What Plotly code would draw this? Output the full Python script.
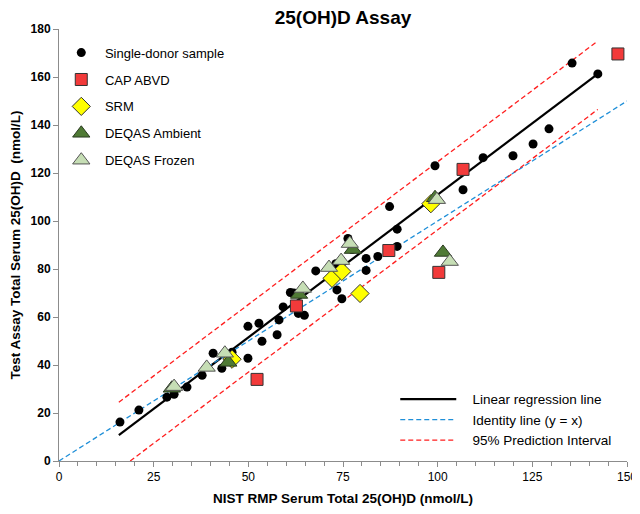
import plotly.graph_objects as go

FONT = "Arial, Liberation Sans, sans-serif"
AXIS = "#8C8C8C"
NB = "\u00a0"

# single-donor samples
donor_x = [16.1, 21.1, 28.5, 30.4, 33.8, 37.8, 40.7, 43.0, 45.7, 49.9, 49.9, 52.8, 53.6,
           57.6, 58.1, 59.2, 61.1, 62.0, 63.2, 64.8, 67.8, 73.1, 73.4, 74.7, 76.3, 77.4,
           81.1, 81.1, 84.2, 87.3, 89.3, 89.3, 99.3, 106.7, 112.0, 119.9, 125.2, 129.4,
           135.5, 142.3]
donor_y = [16.2, 21.2, 26.6, 27.8, 30.8, 35.7, 44.9, 38.6, 45.3, 42.8, 56.1, 57.4, 49.9,
           52.6, 58.8, 64.2, 70.2, 70.0, 61.5, 60.7, 79.2, 82.2, 71.3, 67.6, 92.7, 88.1,
           84.4, 79.4, 85.2, 106.0, 96.6, 89.4, 123.0, 113.0, 126.4, 127.2, 132.1, 138.4,
           165.8, 161.3]

cap_x = [52.3, 62.7, 87.1, 100.3, 106.7, 147.6]
cap_y = [34.0, 64.6, 87.7, 78.6, 121.5, 169.6]

srm_x = [45.7, 72.1, 74.7, 79.5, 98.2]
srm_y = [42.4, 76.1, 79.0, 69.8, 107.2]

amb_x = [29.8, 44.7, 63.4, 77.6, 99.3, 101.4]
amb_y = [30.3, 41.1, 69.4, 88.1, 109.7, 86.9]

frz_x = [30.4, 39.0, 43.8, 64.4, 71.3, 74.5, 76.8, 99.8, 103.2]
frz_y = [31.0, 39.0, 44.9, 71.9, 80.6, 83.5, 90.6, 108.9, 83.1]

# lines (end points)
reg_x, reg_y = [15.8, 142.3], [10.8, 161.3]
ident_x, ident_y = [0, 150], [0, 150]
pi_up_x, pi_up_y = [15.8, 142.3], [24.5, 175.0]
pi_lo_x, pi_lo_y = [18.8, 142.3], [0.0, 146.5]

DASH = "5px,3px"

fig = go.Figure()

# line traces first so markers sit on top
fig.add_trace(go.Scatter(x=reg_x, y=reg_y, mode="lines", name=NB * 3 + "Linear regression line",
                         line=dict(color="black", width=2.2), legend="legend2"))
fig.add_trace(go.Scatter(x=ident_x, y=ident_y, mode="lines", name=NB * 3 + "Identity line (y = x)",
                         line=dict(color="#1F8FD8", width=1.3, dash=DASH), legend="legend2"))
fig.add_trace(go.Scatter(x=pi_up_x, y=pi_up_y, mode="lines", name=NB * 3 + "95% Prediction Interval",
                         line=dict(color="#FF1E1E", width=1.3, dash=DASH), legend="legend2",
                         legendgroup="pi"))
fig.add_trace(go.Scatter(x=pi_lo_x, y=pi_lo_y, mode="lines", showlegend=False,
                         line=dict(color="#FF1E1E", width=1.3, dash=DASH), legendgroup="pi"))

fig.add_trace(go.Scatter(x=donor_x, y=donor_y, mode="markers", name=NB + "Single-donor sample",
                         legendgroup="a",
                         marker=dict(color="black", size=9, line=dict(width=0))))
fig.add_trace(go.Scatter(x=cap_x, y=cap_y, mode="markers", name=NB + "CAP ABVD", legendgroup="b",
                         marker=dict(symbol="square", color="#F23A3A", size=12,
                                     line=dict(color="#333333", width=1))))
fig.add_trace(go.Scatter(x=srm_x, y=srm_y, mode="markers", name=NB + "SRM", legendgroup="c",
                         marker=dict(symbol="diamond", color="#FFFF00", size=14,
                                     line=dict(color="#333333", width=1))))
fig.add_trace(go.Scatter(x=amb_x, y=amb_y, mode="markers", name=NB + "DEQAS Ambient", legendgroup="d",
                         marker=dict(symbol="triangle-up", color="#4F7A35", size=15,
                                     line=dict(color="#2A3A20", width=1))))
fig.add_trace(go.Scatter(x=frz_x, y=frz_y, mode="markers", name=NB + "DEQAS Frozen", legendgroup="e",
                         marker=dict(symbol="triangle-up", color="#C6DEB5", size=15,
                                     line=dict(color="#555555", width=1))))

# the page body has an 8px margin, so the figure is drawn 8px smaller and margins compensate
fig.update_layout(
    width=632, height=506,
    paper_bgcolor="white", plot_bgcolor="white",
    font=dict(family=FONT, size=12, color="black"),
    margin=dict(l=51, r=13, t=21, b=53),
    title=dict(text="<b>25(OH)D Assay</b>", x=0.5, xref="paper", xanchor="center",
               y=0.994, yref="container", yanchor="top", pad=dict(t=0, b=0),
               font=dict(size=19, family=FONT)),
    legend=dict(x=0.004, y=0.98, xanchor="left", yanchor="top", traceorder="grouped",
                tracegroupgap=7, font=dict(size=13, family=FONT), bgcolor="rgba(0,0,0,0)",
                itemsizing="trace"),
    legend2=dict(x=0.592, y=0.012, xanchor="left", yanchor="bottom", tracegroupgap=0,
                 font=dict(size=13.5, family=FONT), bgcolor="rgba(0,0,0,0)", itemwidth=56),
)
fig.update_xaxes(
    range=[0, 150], tickvals=[0, 25, 50, 75, 100, 125, 150], showline=True, linecolor=AXIS,
    linewidth=1, ticks="outside", tickcolor=AXIS, ticklen=5, showgrid=False, zeroline=False,
    minor=dict(dtick=5, ticks="outside", ticklen=4, tickcolor=AXIS),
    tickfont=dict(size=12, family=FONT), automargin=False,
    title=dict(text="<b>NIST RMP Serum Total 25(OH)D (nmol/L)</b>", font=dict(size=13.5), standoff=10),
)
fig.update_yaxes(
    range=[0, 180], dtick=20, showline=True, linecolor=AXIS, linewidth=1, ticks="outside",
    tickcolor=AXIS, ticklen=5, showgrid=False, zeroline=False,
    tickfont=dict(size=12, family=FONT), automargin=False,
    title=dict(text="<b>Test Assay Total Serum 25(OH)D  (nmol/L)</b>", font=dict(size=13.5), standoff=6),
)
fig.update_xaxes(tickprefix="<b>", ticksuffix="</b>")
fig.update_yaxes(tickprefix="<b>", ticksuffix="</b>")

fig.write_html("out.html")
